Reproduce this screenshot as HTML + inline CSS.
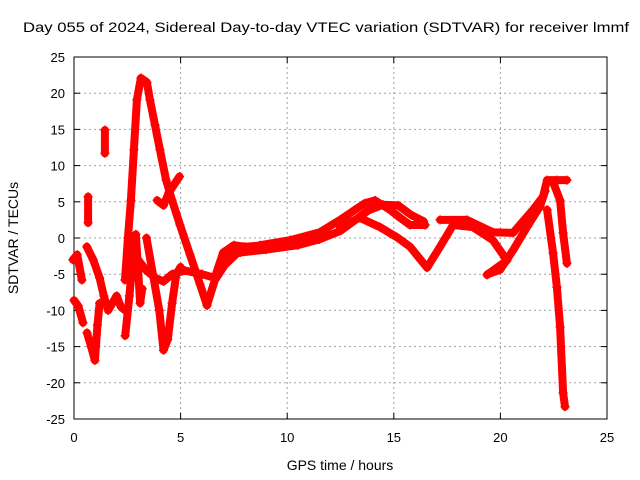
<!DOCTYPE html>
<html><head><meta charset="utf-8"><style>
html,body{margin:0;padding:0;background:#fff;}
svg{display:block;font-family:"Liberation Sans",sans-serif;}
</style></head><body>
<svg id="chart" width="640" height="480" xmlns="http://www.w3.org/2000/svg">
<rect x="0" y="0" width="640" height="480" fill="#fff"/>
<text x="326" y="32" font-size="13.5" text-anchor="middle" textLength="606" lengthAdjust="spacingAndGlyphs">Day 055 of 2024, Sidereal Day-to-day VTEC variation (SDTVAR) for receiver lmmf</text>
<g id="grid"></g>
<g id="axes"></g>
<g id="marks"></g>
<text x="340" y="470" font-size="14" text-anchor="middle">GPS time / hours</text>
<text x="18" y="238" font-size="14" text-anchor="middle" transform="rotate(-90 18 238)">SDTVAR / TECUs</text>
</svg>
<script>
const xTicks = [0,5,10,15,20,25];
const yTicks = [25,20,15,10,5,0,-5,-10,-15,-20,-25];
const trackMain = [[2.39,-5.8],[2.53,0],[2.67,5.2],[2.81,12.2],[2.95,19.1],[3.14,22.1],[3.42,21.5],[3.56,19.1],[3.8,15.6],[4.03,12.2],[4.32,8],[4.6,5.2],[4.97,1.8],[5.44,-2.3],[5.91,-6.4],[6.24,-9.3]];
const trackMid = [[6.24,-9.3],[6.61,-5.8],[7.08,-3.7],[7.79,-1.7],[8.73,-1],[10.13,-0.3],[11.54,0.8],[12.48,2.5],[13.18,3.9],[13.65,4.8],[14.12,5.2],[14.82,3.9],[15.29,2.8],[15.76,1.8],[16.47,1.8]];
const trackMid2 = [[7.0,-2.5],[7.8,-2],[9.0,-1.6],[10.5,-1.0],[11.5,-0.2],[12.5,1.0],[13.2,2.5],[13.8,3.8],[14.5,4.6],[15.2,4.5],[15.8,3.2],[16.4,2.3]];
const trackMidLow = [[12.48,1.5],[13.4,2.8],[14.35,1.5],[15.15,0.1],[15.76,-1.2],[16.56,-4.1],[17.17,-1.2],[17.78,1.8],[18.71,1.5],[19.65,-0.3],[20.31,-3.1],[19.37,-5.1]];
const trackEveUp = [[17.17,2.5],[18.43,2.5],[19.65,0.8],[20.59,0.7],[21.53,3.9],[22.0,5.7],[22.19,8],[22.65,8],[23.12,8]];
const trackEveRise = [[19.4,-5.0],[19.98,-4.4],[20.59,-1.7],[21.25,1.5],[21.86,4.4],[22.1,6.5]];
const trackDrop = [[22.19,3.9],[22.47,-2.1],[22.65,-6.8],[22.8,-12.3],[22.94,-21.4],[23.03,-23.3]];
const trackDrop2 = [[22.5,7.5],[22.8,5.2],[22.94,0.7],[23.12,-3.5]];
const trackLateDay = [[6.0,-5],[6.6,-5.5],[7.0,-2],[7.5,-1],[8.0,-1.2],[9.0,-1.0]];
const trackE = [[3.0,-3],[3.4,-4.5],[3.8,-5.5],[4.2,-6],[4.6,-5],[5.2,-4.5],[6.0,-5]];
const trackD = [[3.4,0],[3.7,-5],[4.0,-10],[4.2,-15.5],[4.4,-14],[4.6,-9],[4.8,-5],[5.0,-4]];
const trackC = [[2.4,-13.5],[2.6,-8],[2.75,-3],[2.9,0.5],[3.0,-4],[3.1,-9],[3.2,-7]];
const trackB = [[0.6,-1.2],[0.9,-3],[1.2,-5.5],[1.4,-8],[1.6,-10],[1.8,-9],[2.0,-8],[2.2,-9.5],[2.4,-10]];
const trackA1 = [[-0.05,-3.0],[0.15,-2.3],[0.37,-5.8]];
const trackA2 = [[0.0,-8.6],[0.2,-9.4],[0.42,-11.7]];
const trackA3 = [[0.61,-13.1],[0.8,-15],[0.98,-16.9],[1.1,-12],[1.2,-9]];
const trackSpike1 = [[0.66,5.7],[0.66,2.1]];
const trackSpike2 = [[1.45,14.9],[1.45,11.7]];
const trackBranch = [[3.9,5.2],[4.2,4.5],[4.45,6.3],[4.95,8.5]];
const tracks = [trackMain,trackMid,trackMid2,trackMidLow,trackEveUp,trackEveRise,trackDrop,trackDrop2,trackLateDay,trackE,trackD,trackC,trackB,trackA1,trackA2,trackA3,trackSpike1,trackSpike2,trackBranch];

const X0=74,X1=607,Y0=419,Y1=57;
function xs(h){return X0+(h-0)/25*(X1-X0);}
function ys(v){return Y0-(v+25)/50*(Y0-Y1);}
const NS="http://www.w3.org/2000/svg";
const grid=document.getElementById('grid'),axes=document.getElementById('axes'),marks=document.getElementById('marks');
function mk(tag,attrs,parent){const e=document.createElementNS(NS,tag);for(const k in attrs)e.setAttribute(k,attrs[k]);parent.appendChild(e);return e;}
xTicks.forEach(t=>{
  const x=xs(t);
  if(t>0&&t<25){const l=mk('line',{x1:x,x2:x,y1:Y1,y2:Y0,stroke:'#a0a0a0','stroke-dasharray':'2,3'},grid);
  
  }
  mk('line',{x1:x,x2:x,y1:Y0,y2:Y0-6,stroke:'#000'},axes);
  mk('line',{x1:x,x2:x,y1:Y1,y2:Y1+6,stroke:'#000'},axes);
  const tx=mk('text',{x:x,y:Y0+23,'font-size':13,'text-anchor':'middle'},axes);
  tx.textContent=t;
  
  
});
yTicks.forEach(t=>{
  const y=ys(t);
  if(t>-25&&t<25){const l=mk('line',{x1:X0,x2:X1,y1:y,y2:y,stroke:'#a0a0a0','stroke-dasharray':'2,3'},grid);
  
  }
  mk('line',{x1:X0,x2:X0+6,y1:y,y2:y,stroke:'#000'},axes);
  mk('line',{x1:X1,x2:X1-6,y1:y,y2:y,stroke:'#000'},axes);
  const tx=mk('text',{x:X0-9,y:y+5,'font-size':13,'text-anchor':'end'},axes);
  tx.textContent=t;
  
  
});
mk('rect',{x:X0,y:Y1,width:X1-X0,height:Y0-Y1,fill:'none',stroke:'#000'},axes);
tracks.forEach(tr=>{
  const pts=tr.map(p=>xs(p[0]).toFixed(1)+','+ys(p[1]).toFixed(1)).join(' ');
  const pl=mk('polyline',{points:pts,fill:'none',stroke:'#ff0000','stroke-width':8,'stroke-linejoin':'round','stroke-linecap':'round'},marks);
  
  
  tr.forEach(p=>{
    const x=xs(p[0]),y=ys(p[1]);
    const m=mk('path',{d:`M${x-4.5},${y}H${x+4.5}M${x},${y-4.5}V${y+4.5}`,stroke:'#ff0000','stroke-width':1.5},marks);
    
    
  });
});
</script>
</body></html>
